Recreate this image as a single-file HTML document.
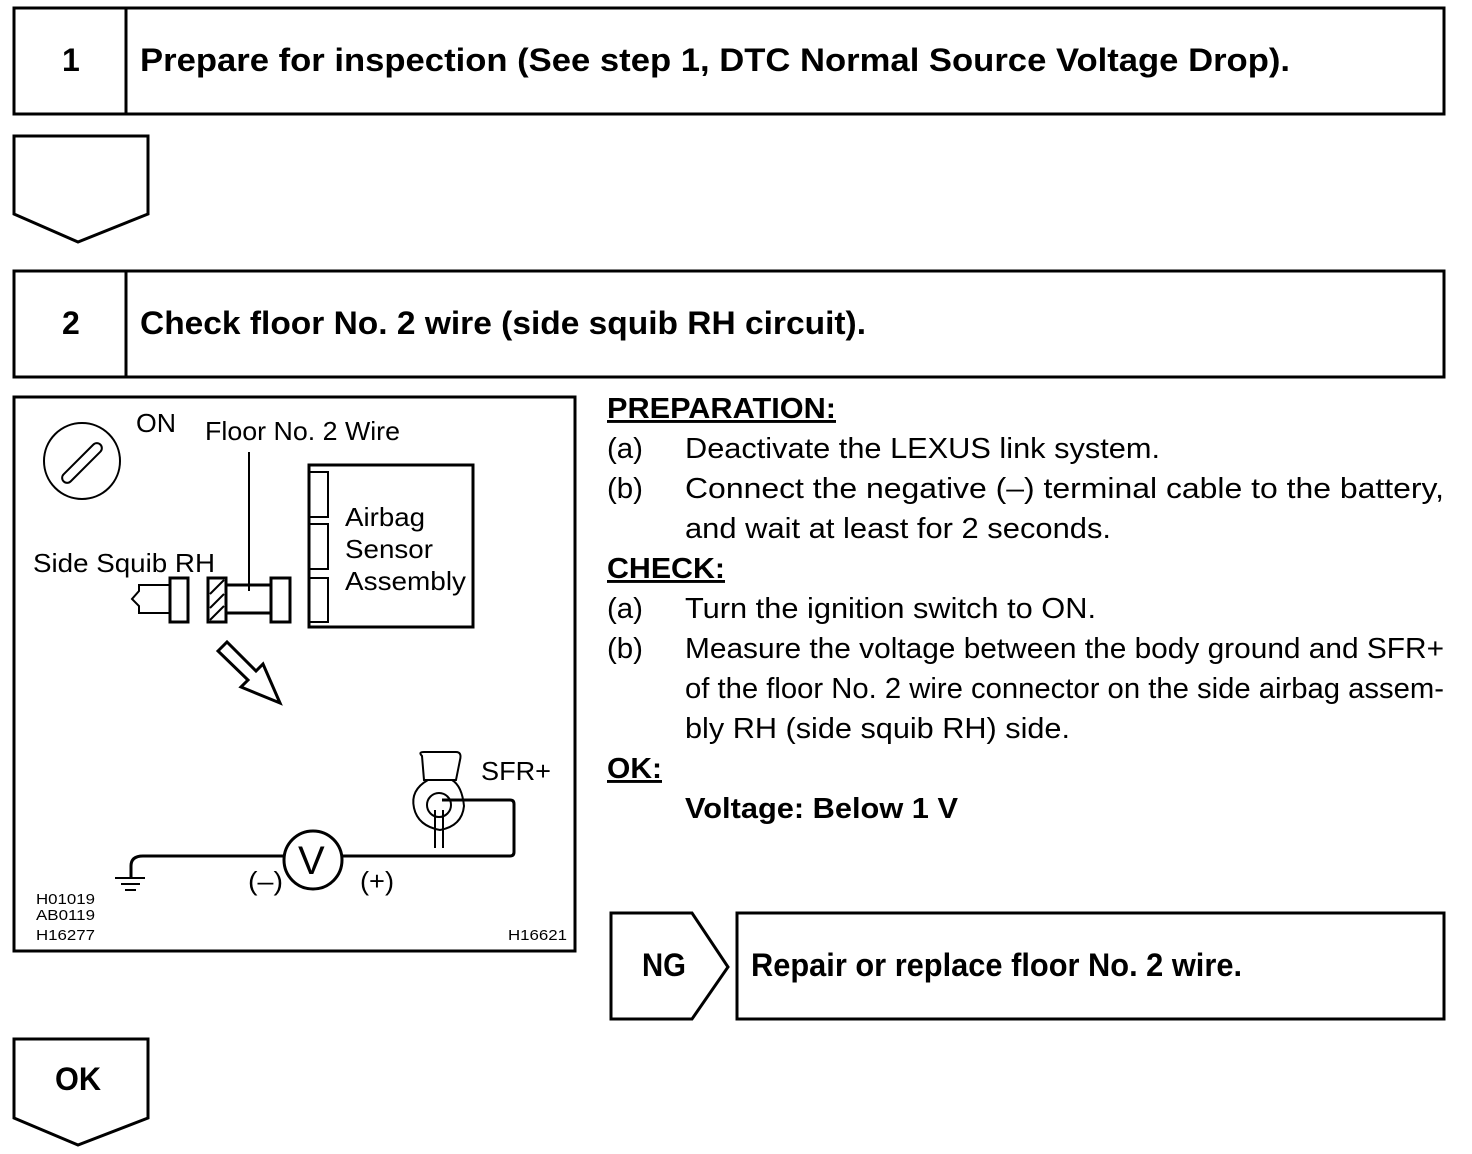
<!DOCTYPE html>
<html><head><meta charset="utf-8"><style>
html,body{margin:0;padding:0;background:#fff;}
svg{display:block;}
text{font-family:"Liberation Sans",Arial,sans-serif;fill:#000;}
.h{font-weight:bold;font-size:32px;}
.b{font-size:29px;}
.d{font-size:26px;}
.s{font-size:15px;}
</style></head><body>
<svg width="1472" height="1154" viewBox="0 0 1472 1154" xmlns="http://www.w3.org/2000/svg">
<g fill="none" stroke="#000" stroke-width="3">
<rect x="14" y="8" width="1430" height="106"/>
<line x1="126" y1="8" x2="126" y2="114"/>
<path d="M14,136 H148 V214 L78,242 L14,214 Z"/>
<rect x="14" y="271" width="1430" height="106"/>
<line x1="126" y1="271" x2="126" y2="377"/>
<rect x="14" y="397" width="561" height="554"/>
<path d="M611,913 H692 L728,967 L692,1019 H611 Z"/>
<rect x="737" y="913" width="707" height="106"/>
<path d="M14,1039 H148 V1118 L78,1145 L14,1118 Z"/>
</g>
<text class="h" x="62" y="71">1</text>
<text class="h" x="140" y="71" textLength="1150" lengthAdjust="spacingAndGlyphs">Prepare for inspection (See step 1, DTC Normal Source Voltage Drop).</text>
<text class="h" x="62" y="334">2</text>
<text class="h" x="140" y="334" textLength="726" lengthAdjust="spacingAndGlyphs">Check floor No. 2 wire (side squib RH circuit).</text>
<text class="h" x="642" y="976" textLength="44" lengthAdjust="spacingAndGlyphs">NG</text>
<text class="h" x="751" y="976" textLength="491" lengthAdjust="spacingAndGlyphs">Repair or replace floor No. 2 wire.</text>
<text class="h" x="55" y="1090" textLength="46" lengthAdjust="spacingAndGlyphs">OK</text>

<text class="b" x="607" y="418" text-decoration="underline" font-weight="bold" textLength="229" lengthAdjust="spacingAndGlyphs">PREPARATION:</text>
<text class="b" x="607" y="458" textLength="36" lengthAdjust="spacingAndGlyphs">(a)</text><text class="b" x="685" y="458" textLength="475" lengthAdjust="spacingAndGlyphs">Deactivate the LEXUS link system.</text>
<text class="b" x="607" y="498" textLength="36" lengthAdjust="spacingAndGlyphs">(b)</text><text class="b" x="685" y="498" textLength="759" lengthAdjust="spacingAndGlyphs">Connect the negative (–) terminal cable to the battery,</text>
<text class="b" x="685" y="538" textLength="426" lengthAdjust="spacingAndGlyphs">and wait at least for 2 seconds.</text>
<text class="b" x="607" y="578" text-decoration="underline" font-weight="bold" textLength="118" lengthAdjust="spacingAndGlyphs">CHECK:</text>
<text class="b" x="607" y="618" textLength="36" lengthAdjust="spacingAndGlyphs">(a)</text><text class="b" x="685" y="618" textLength="411" lengthAdjust="spacingAndGlyphs">Turn the ignition switch to ON.</text>
<text class="b" x="607" y="658" textLength="36" lengthAdjust="spacingAndGlyphs">(b)</text><text class="b" x="685" y="658" textLength="759" lengthAdjust="spacingAndGlyphs">Measure the voltage between the body ground and SFR+</text>
<text class="b" x="685" y="698" textLength="759" lengthAdjust="spacingAndGlyphs">of the floor No. 2 wire connector on the side airbag assem-</text>
<text class="b" x="685" y="738" textLength="385" lengthAdjust="spacingAndGlyphs">bly RH (side squib RH) side.</text>
<text class="b" x="607" y="778" text-decoration="underline" font-weight="bold" textLength="55" lengthAdjust="spacingAndGlyphs">OK:</text>
<text class="b" x="685" y="818" font-weight="bold" textLength="273" lengthAdjust="spacingAndGlyphs">Voltage: Below 1 V</text>

<!-- diagram -->
<g fill="none" stroke="#000" stroke-width="2">
<circle cx="82" cy="461" r="38"/>
<rect x="56" y="458" width="52" height="10" rx="5" transform="rotate(-45 82 463)"/>
<line x1="249" y1="452" x2="249" y2="591"/>
<rect x="309" y="465" width="164" height="162" stroke-width="3"/>
<rect x="309" y="472" width="19" height="45"/>
<rect x="309" y="524" width="19" height="45"/>
<rect x="309" y="578" width="19" height="44"/>
<path d="M170,585 H139 V591 L132,599 L139,606 V613 H170"/>
<rect x="170" y="578" width="18" height="44" stroke-width="3"/>
<rect x="208" y="578" width="18" height="44" stroke-width="3"/>
<path d="M210,594 L224,580 M210,608 L224,594 M210,620 L224,606" stroke-width="2"/>
<rect x="226" y="585" width="45" height="28" stroke-width="3"/>
<rect x="271" y="578" width="19" height="44" stroke-width="3"/>
<path d="M218,651 L227,642 L256,671 L263,664 L280,703 L241,687 L248,680 Z" stroke-width="3"/>
<circle cx="313" cy="860" r="29" stroke-width="3"/>
<path d="M284,856 H143 Q131,856 131,866 V878" stroke-width="3"/>
<path d="M342,856 H510 Q514,856 514,852 V804 Q514,800 510,800 H442" stroke-width="3"/>
<line x1="115" y1="878" x2="145" y2="878"/>
<line x1="121" y1="884" x2="140" y2="884"/>
<line x1="125" y1="890" x2="136" y2="890"/>
<path d="M422,756 Q418,752 424,752 H456 Q462,752 460,760 L456,780 H424 Z"/>
<path d="M428,780 Q410,790 414,808 Q418,826 440,830 Q462,826 464,806 Q462,786 452,780"/>
<circle cx="439" cy="805" r="12"/>
<path d="M435,810 V848 M443,810 V848" />
</g>
<text class="d" x="136" y="432" textLength="40" lengthAdjust="spacingAndGlyphs">ON</text>
<text class="d" x="205" y="440" textLength="195" lengthAdjust="spacingAndGlyphs">Floor No. 2 Wire</text>
<text class="d" x="345" y="526" textLength="80" lengthAdjust="spacingAndGlyphs">Airbag</text>
<text class="d" x="345" y="558" textLength="88" lengthAdjust="spacingAndGlyphs">Sensor</text>
<text class="d" x="345" y="590" textLength="121" lengthAdjust="spacingAndGlyphs">Assembly</text>
<text class="d" x="33" y="572" textLength="182" lengthAdjust="spacingAndGlyphs">Side Squib RH</text>
<text class="d" x="481" y="780" textLength="70" lengthAdjust="spacingAndGlyphs">SFR+</text>
<text x="298" y="874" style="font-size:40px">V</text>
<text class="d" x="248" y="890" textLength="35" lengthAdjust="spacingAndGlyphs">(–)</text>
<text class="d" x="360" y="890" textLength="34" lengthAdjust="spacingAndGlyphs">(+)</text>
<text class="s" x="36" y="904" textLength="59" lengthAdjust="spacingAndGlyphs">H01019</text>
<text class="s" x="36" y="920" textLength="59" lengthAdjust="spacingAndGlyphs">AB0119</text>
<text class="s" x="36" y="940" textLength="59" lengthAdjust="spacingAndGlyphs">H16277</text>
<text class="s" x="508" y="940" textLength="59" lengthAdjust="spacingAndGlyphs">H16621</text>
</svg>
</body></html>
